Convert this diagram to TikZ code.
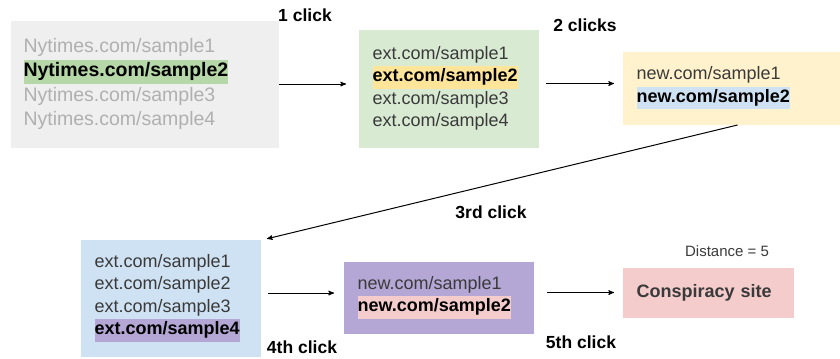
\documentclass[tikz,border=0pt]{standalone}
\usepackage{fontspec}
\setmainfont{Liberation Sans}
\usepackage{xcolor}
\usetikzlibrary{arrows}

\definecolor{greybox}{HTML}{EFEFEF}
\definecolor{greytxt}{HTML}{B0B0B0}
\definecolor{greenbox}{HTML}{D9EAD3}
\definecolor{greenhl}{HTML}{B6D7A8}
\definecolor{yellowbox}{HTML}{FFF2CC}
\definecolor{yellowhl}{HTML}{FFE599}
\definecolor{bluebox}{HTML}{CFE2F3}
\definecolor{purplebox}{HTML}{B4A7D6}
\definecolor{pinkbox}{HTML}{F4CCCC}
\definecolor{txt}{HTML}{3A3A3A}

% highlighted (clicked) link
\newcommand{\hilite}[2]{{\setlength{\fboxsep}{0pt}\colorbox{#1}{\strut\color{black}\textbf{#2}}}}

\begin{document}
\begin{tikzpicture}[x=1bp,y=-1bp,>=stealth',line width=1bp,
 page/.style={anchor=north west,inner xsep=14bp,inner ysep=0pt,align=left,
  text=txt,font=\fontsize{18bp}{22.5bp}\selectfont},
 click/.style={font=\bfseries\fontsize{17.5bp}{20bp}\selectfont}]
 \useasboundingbox (0,0) rectangle (840,358);

 \node[page,fill=greybox,text=greytxt,inner xsep=13bp,text width=242bp,
  minimum height=127bp,font=\fontsize{19.5bp}{24.5bp}\selectfont] (nyt) at (10,20)
  {Nytimes.com/sample1\\ \hilite{greenhl}{Nytimes.com/sample2}\\
   Nytimes.com/sample3\\ Nytimes.com/sample4};
 \node[page,fill=greenbox,text width=152bp,minimum height=118bp] (ext) at (358,29)
  {ext.com/sample1\\ \hilite{yellowhl}{ext.com/sample2}\\
   ext.com/sample3\\ ext.com/sample4};
 \node[page,fill=yellowbox,text width=190bp,minimum height=73bp] (new) at (622,51)
  {new.com/sample1\\ \hilite{bluebox}{new.com/sample2}};
 \node[page,fill=bluebox,text width=152bp,minimum height=117bp] (ext2) at (80,239)
  {ext.com/sample1\\ ext.com/sample2\\
   ext.com/sample3\\ \hilite{purplebox}{ext.com/sample4}};
 \node[page,fill=purplebox,text width=162bp,minimum height=72bp] (new2) at (343,261)
  {new.com/sample1\\ \hilite{pinkbox}{new.com/sample2}};
 \node[page,fill=pinkbox,text width=143bp,minimum height=50bp] (site) at (622,267)
  {\textbf{Conspiracy site}};

 \node[click] (c1) at (305,15) {1 click};
 \node[click] (c2) at (585,25) {2 clicks};
 \node[click] (c3) at (491,212) {3rd click};
 \node[click] (c4) at (302,347) {4th click};
 \node[click] (c5) at (581,342) {5th click};
 \node[font=\fontsize{15bp}{17bp}\selectfont,text=txt] (dist) at (727,251) {Distance = 5};

 \draw[->,shorten >=12bp] (nyt.east) -- (nyt.east -| ext.west);
 \draw[->,shorten <=7bp,shorten >=8bp] ([yshift=5bp]ext.east) -- ([yshift=5bp]ext.east -| new.west);
 \draw[->,shorten >=1bp] ([xshift=6bp]new.south) -- ([xshift=5bp]ext2.north east);
 \draw[->,shorten <=7bp,shorten >=9bp] ([yshift=5bp]ext2.east) -- ([yshift=5bp]ext2.east -| new2.west);
 \draw[->,shorten <=13bp,shorten >=8bp] (site.west -| new2.east) -- (site.west);
\end{tikzpicture}
\end{document}
